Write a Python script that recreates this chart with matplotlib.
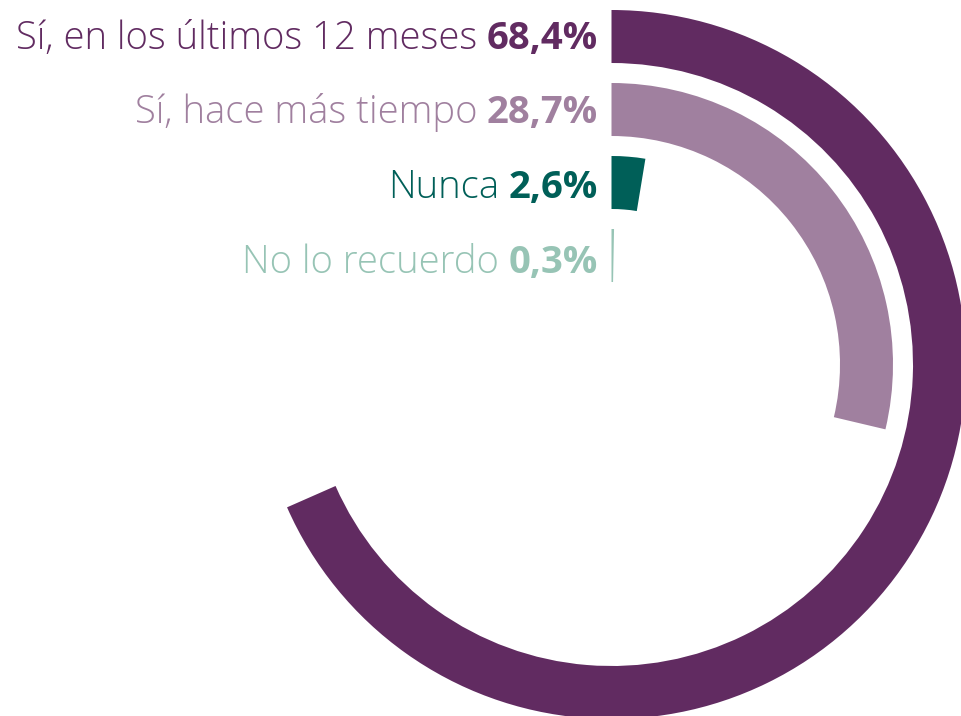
import numpy as np
import matplotlib.pyplot as plt

# datos
categorias = ["Sí, en los últimos 12 meses", "Sí, hace más tiempo", "Nunca", "No lo recuerdo"]
valores = [68.4, 28.7, 2.6, 0.3]
colores = ["#612b61", "#a0809f", "#005f58", "#97c4b5"]

W, H = 961, 716
fig = plt.figure(figsize=(W / 100, H / 100), dpi=100)

# geometria en pixeles
cx, cy = 611.5, 364.5  # centro (y desde arriba)
R = 360
ancho = 53
radios_ext = [354.5, 281.5, 208.5, 135.5]

ax = fig.add_axes([(cx - R) / W, (H - cy - R) / H, 2 * R / W, 2 * R / H], projection='polar')
ax.set_theta_zero_location('N')
ax.set_theta_direction(-1)
ax.set_ylim(0, R)
ax.axis('off')

for i, v in enumerate(valores):
    ax.bar(0, ancho, width=v / 100 * 2 * np.pi, bottom=radios_ext[i] - ancho,
           align='edge', color=colores[i], linewidth=0)

# etiquetas
fs = 27.5
x_der = 598
for i, (cat, v) in enumerate(zip(categorias, valores)):
    base = 49 + i * 74.5
    pct = fig.text(x_der / W, 1 - base / H, f"{v:.1f}".replace('.', ',') + '%',
                   ha='right', va='baseline', fontsize=fs, fontweight='bold',
                   color=colores[i], family='Open Sans')
    ax.annotate(cat, xy=(0, 0), xycoords=pct, xytext=(-7, 0), textcoords='offset points',
                ha='right', va='bottom', fontsize=fs, fontweight='light',
                color=colores[i], family='Open Sans', annotation_clip=False)

fig.savefig('out.png', dpi=100)
